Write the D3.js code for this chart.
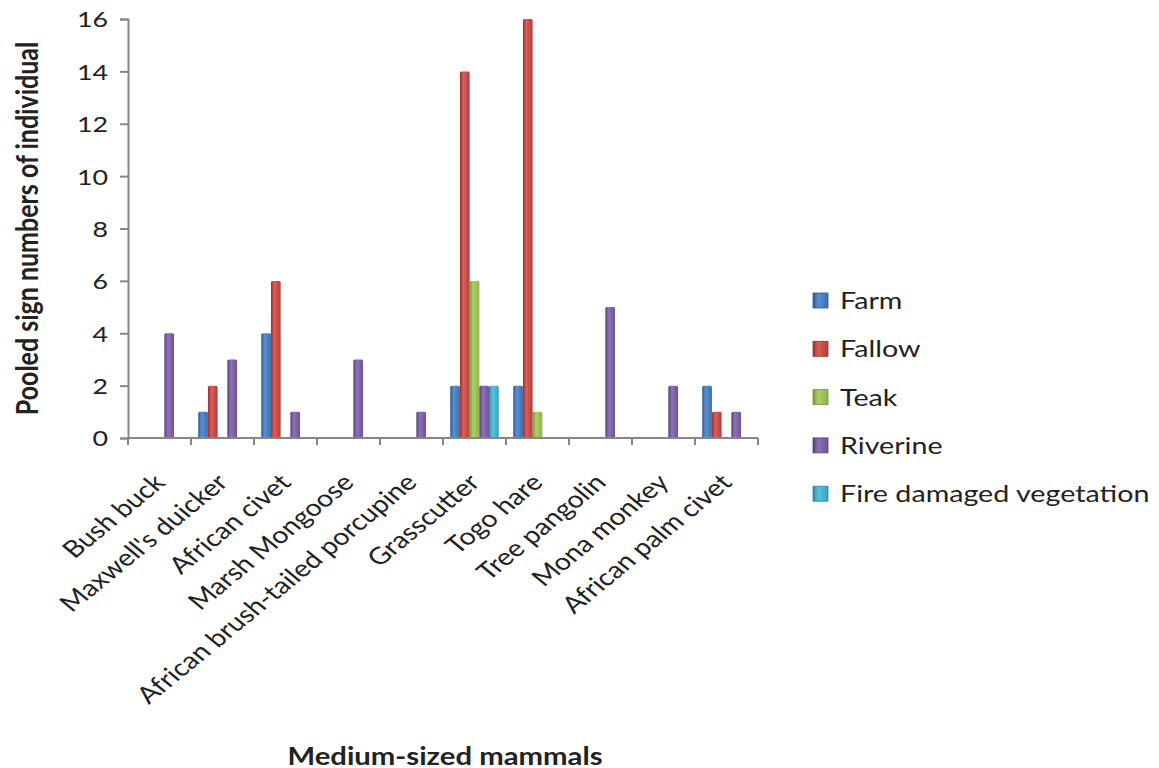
<!DOCTYPE html>
<html>
  <head>
    <script src="https://d3js.org/d3.v7.min.js"></script>
    <style>
      body { margin: 0; background: #fff; }
      text { font-family: Lato, "Open Sans", sans-serif; fill: #222; }
    </style>
  </head>
  <body>
    <script type="text/javascript">

    // categories on the x axis
    var mammals = ["Bush buck", "Maxwell's duicker", "African civet", "Marsh Mongoose",
                   "African brush-tailed porcupine", "Grasscutter", "Togo hare",
                   "Tree pangolin", "Mona monkey", "African palm civet"];

    // one array per habitat, same order as mammals
    var habitats = ["Farm", "Fallow", "Teak", "Riverine", "Fire damaged vegetation"];
    var farm     = [0, 1, 4, 0, 0, 2, 2, 0, 0, 2];
    var fallow   = [0, 2, 6, 0, 0, 14, 16, 0, 0, 1];
    var teak     = [0, 0, 0, 0, 0, 6, 1, 0, 0, 0];
    var riverine = [4, 3, 1, 3, 1, 2, 0, 5, 2, 1];
    var fire     = [0, 0, 0, 0, 0, 2, 0, 0, 0, 0];

    var yTicks = [0, 2, 4, 6, 8, 10, 12, 14, 16];

    var colors = {
      "Farm": ["#3a6fb0", "#5b8fd0", "#2c5a92"],
      "Fallow": ["#b83c39", "#d85f5c", "#98302d"],
      "Teak": ["#8fb24c", "#add06a", "#76953a"],
      "Riverine": ["#6d5395", "#8d72b5", "#553f78"],
      "Fire damaged vegetation": ["#36a3c0", "#5cc2dc", "#2a869f"]
    };

    var series = [farm, fallow, teak, riverine, fire];

    var width = 1159, height = 768;
    var plotLeft = 128, plotRight = 758, plotTop = 19, plotBottom = 438;
    // the original picture is a bit wider than tall, so text is stretched too
    var SX = 1.22;

    var svg = d3.select("body").append("svg")
        .attr("width", width)
        .attr("height", height);

    // gradients to get the rounded look of the old office bars
    var defs = svg.append("defs");
    habitats.forEach(function (h, i) {
      var g = defs.append("linearGradient")
          .attr("id", "grad" + i)
          .attr("x1", "0%").attr("x2", "100%").attr("y1", "0%").attr("y2", "0%");
      g.append("stop").attr("offset", "0%").attr("stop-color", colors[h][2]);
      g.append("stop").attr("offset", "35%").attr("stop-color", colors[h][1]);
      g.append("stop").attr("offset", "100%").attr("stop-color", colors[h][0]);
    });

    var x0 = d3.scaleBand().domain(mammals).range([plotLeft, plotRight]).padding(0);
    var x1 = d3.scaleBand().domain(habitats).range([0, x0.bandwidth()])
        .paddingInner(0).paddingOuter(0.745);
    var y = d3.scaleLinear().domain([0, 16]).range([plotBottom, plotTop]);

    // bars
    var rows = [];
    mammals.forEach(function (m, i) {
      habitats.forEach(function (h, j) {
        if (series[j][i] > 0) rows.push({mammal: m, habitat: h, idx: j, value: series[j][i]});
      });
    });

    svg.append("g").selectAll("rect")
      .data(rows)
      .enter()
      .append("rect")
        .attr("x", function (d) { return x0(d.mammal) + x1(d.habitat); })
        .attr("y", function (d) { return y(d.value); })
        .attr("width", x1.bandwidth())
        .attr("height", function (d) { return plotBottom - y(d.value); })
        .attr("rx", 1.5)
        .attr("fill", function (d) { return "url(#grad" + d.idx + ")"; });

    // y axis
    var yAxis = svg.append("g")
        .attr("transform", "translate(" + plotLeft + ",0)")
        .call(d3.axisLeft(y).tickValues(yTicks).tickSize(8).tickPadding(12));
    yAxis.selectAll("line, path").attr("stroke", "#868686").attr("stroke-width", 2);
    yAxis.selectAll(".tick text")
        .style("font-size", "22px").attr("fill", "#222")
        .style("font-family", "Lato, sans-serif")
        .attr("x", 0).attr("dy", "0.36em")
        .attr("transform", "translate(-20,0) scale(" + SX + ",1)");

    // x axis with ticks on category boundaries
    var xa = svg.append("g");
    xa.append("line")
        .attr("x1", plotLeft).attr("x2", plotRight)
        .attr("y1", plotBottom).attr("y2", plotBottom)
        .attr("stroke", "#868686").attr("stroke-width", 2);
    xa.selectAll("line.tick")
      .data(mammals.concat(["end"]))
      .enter()
      .append("line")
        .attr("class", "tick")
        .attr("x1", function (d, i) { return plotLeft + i * x0.step(); })
        .attr("x2", function (d, i) { return plotLeft + i * x0.step(); })
        .attr("y1", plotBottom).attr("y2", plotBottom + 7)
        .attr("stroke", "#868686").attr("stroke-width", 2);

    xa.selectAll("text")
      .data(mammals)
      .enter()
      .append("text")
        .attr("transform", function (d) {
          return "translate(" + (x0(d) + x0.bandwidth() / 2 + 7) + "," + (plotBottom + 46) + ") scale(" + SX + ",1) rotate(-45)";
        })
        .attr("text-anchor", "end")
        .style("font-size", "23.5px")
        .text(function (d) { return d; });

    // axis titles
    svg.append("text")
        .attr("transform", "translate(38," + ((plotTop + plotBottom) / 2) + ") scale(" + SX + ",1) rotate(-90)")
        .attr("text-anchor", "middle")
        .style("font-size", "25px")
        .style("font-weight", "bold")
        .text("Pooled sign numbers of individual");

    svg.append("text")
        .attr("transform", "translate(445,765) scale(" + SX + ",1)")
        .attr("text-anchor", "middle")
        .style("font-size", "24px")
        .style("font-weight", "bold")
        .text("Medium-sized mammals");

    // legend
    var legend = svg.append("g").selectAll("g")
      .data(habitats)
      .enter()
      .append("g")
        .attr("transform", function (d, i) { return "translate(813," + (293 + i * 48.3) + ")"; });

    legend.append("rect")
        .attr("width", 15).attr("height", 15)
        .attr("fill", function (d, i) { return "url(#grad" + i + ")"; })
        .attr("stroke", function (d) { return colors[d][2]; })
        .attr("stroke-width", 0.8);

    legend.append("text")
        .attr("transform", "translate(27,16) scale(" + SX + ",1)")
        .style("font-size", "23.5px")
        .text(function (d) { return d; });

    </script>
  </body>
</html>
